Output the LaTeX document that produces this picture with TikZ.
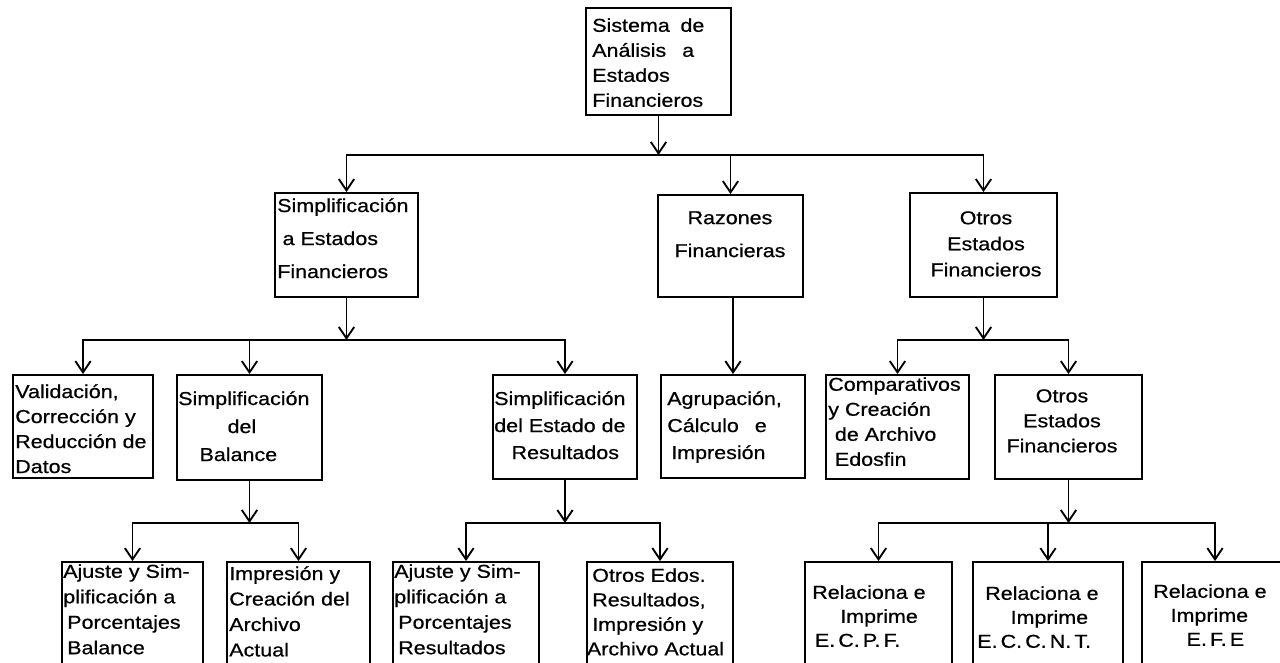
\documentclass[tikz,border=0pt]{standalone}
\usepackage{fontspec}
\newfontfamily\tf[FakeStretch=1.15,FakeBold=0.6]{Liberation Sans}
\usetikzlibrary{arrows.meta,fit}
\newcommand\tfs[1]{\tf\fontsize{14}{#1}\selectfont}
\begin{document}
\begin{tikzpicture}[x=0.75pt,y=-0.75pt,
  box/.style={draw,line width=1.4pt,inner sep=0pt},
  txt/.style={inner sep=0pt,anchor=north west,align=left},
  ctxt/.style={inner sep=0pt,anchor=north,align=center},
  ln/.style={line width=1.4pt,line cap=rect},
  arr/.style={line width=1.4pt,-{Straight Barb[length=8.5pt,width=11.5pt]}}]
\useasboundingbox (0,0) rectangle (1280,663);
\fill[white] (0,0) rectangle (1280,663);
\clip (0,0) rectangle (1280,663);

% ---------- level 0
\node[box,fit={(586,8)(731,115)}] (top) {};
\node[txt,font=\tfs{18.75pt}] (topT) at (592,18) {Sistema\hspace{8pt}de\\Análisis\hspace{12pt}a\\Estados\\Financieros};

% ---------- level 1
\node[box,fit={(275,193)(418,297)}] (s1) {};
\node[txt,font=\tfs{24.75pt}] (s1T) at (277,198) {Simplificación\\\hspace*{4pt}a Estados\\Financieros};

\node[box,fit={(658,195)(803,297)}] (ra) {};
\node[ctxt,font=\tfs{24.75pt}] (raT) at (730,211) {Razones\\Financieras};

\node[box,fit={(910,193)(1057,297)}] (o1) {};
\node[ctxt,font=\tfs{19.5pt}] (o1T) at (986,211) {Otros\\Estados\\Financieros};

% ---------- level 2
\node[box,fit={(13,375)(153,478)}] (val) {};
\node[txt,font=\tfs{18.75pt}] (valT) at (15,384) {Validación,\\Corrección y\\Reducción de\\Datos};

\node[box,fit={(177,375)(322,480)}] (bal) {};
\node[txt,font=\tfs{21pt}] (balT) at (178,391) {Simplificación\\\hspace*{37pt}del\\\hspace*{16pt}Balance};

\node[box,fit={(493,375)(637,479)}] (res) {};
\node[txt,font=\tfs{20.25pt}] (resT) at (494,391) {Simplificación\\del Estado de\\\hspace*{13pt}Resultados};

\node[box,fit={(661,375)(805,478)}] (ag) {};
\node[txt,font=\tfs{20.25pt}] (agT) at (667,391) {Agrupación,\\Cálculo\hspace{12pt}e\\\hspace*{3pt}Impresión};

\node[box,fit={(826,375)(969,479)}] (cp) {};
\node[txt,font=\tfs{18.75pt}] (cpT) at (828,377) {Comparativos\\y Creación\\\hspace*{5pt}de Archivo\\\hspace*{5pt}Edosfin};

\node[box,fit={(995,375)(1142,479)}] (o2) {};
\node[ctxt,font=\tfs{18.75pt}] (o2T) at (1062,389) {Otros\\Estados\\Financieros};

% ---------- level 3
\node[box,fit={(62,562)(203,700)}] (ajb) {};
\node[txt,font=\tfs{19.1pt}] (ajbT) at (63,564) {Ajuste y Sim-\\plificación a\\\hspace*{3pt}Porcentajes\\\hspace*{3pt}Balance};

\node[box,fit={(227,562)(370,700)}] (imp) {};
\node[txt,font=\tfs{19.1pt}] (impT) at (229,566) {Impresión y\\Creación del\\Archivo\\Actual};

\node[box,fit={(393,562)(539,700)}] (ajr) {};
\node[txt,font=\tfs{19.1pt}] (ajrT) at (394,564) {Ajuste y Sim-\\plificación a\\\hspace*{3pt}Porcentajes\\\hspace*{3pt}Resultados};

\node[box,fit={(587,562)(733,700)}] (oed) {};
\node[txt,font=\tfs{18.4pt}] (oedT) at (592,568) {Otros Edos.\\Resultados,\\Impresión y\\\hspace*{-4pt}Archivo Actual};

\node[box,fit={(805,562)(952,700)}] (ecpf) {};
\node[txt,font=\tfs{18pt}] (ecpfT) at (812,585) {Relaciona e\\\hspace*{21pt}Imprime\\\hspace*{2pt}E.\,C.\,P.\,F.};

\node[box,fit={(973,562)(1123,700)}] (eccnt) {};
\node[txt,font=\tfs{18pt}] (eccntT) at (985,586) {Relaciona e\\\hspace*{19pt}Imprime\\\hspace*{-6pt}E.\,C.\,C.\,N.\,T.};

\node[box,fit={(1142,562)(1288,700)}] (efe) {};
\node[txt,font=\tfs{18pt}] (efeT) at (1153,584) {Relaciona e\\\hspace*{13pt}Imprime\\\hspace*{25pt}E.\,F.\,E};

% ---------- connectors
\coordinate (b0) at (659,155);
\coordinate (b1) at (0,340);
\coordinate (b2) at (0,523);

\draw[arr] (top.south) -- (top.south |- b0);
\draw[ln] (s1.north |- b0) -- (o1.north |- b0);
\draw[arr] (s1.north |- b0) -- (s1.north);
\draw[arr] (ra.north |- b0) -- (ra.north);
\draw[arr] (o1.north |- b0) -- (o1.north);

\draw[arr] (s1.south) -- (s1.south |- b1);
\draw[ln] (val.north |- b1) -- (res.north |- b1);
\draw[arr] (val.north |- b1) -- (val.north);
\draw[arr] (bal.north |- b1) -- (bal.north);
\draw[arr] (res.north |- b1) -- (res.north);

\draw[arr] (ag.north |- ra.south) -- (ag.north);

\draw[arr] (o1.south) -- (o1.south |- b1);
\draw[ln] (cp.north |- b1) -- (o2.north |- b1);
\draw[arr] (cp.north |- b1) -- (cp.north);
\draw[arr] (o2.north |- b1) -- (o2.north);

\draw[arr] (bal.south) -- (bal.south |- b2);
\draw[ln] (ajb.north |- b2) -- (imp.north |- b2);
\draw[arr] (ajb.north |- b2) -- (ajb.north);
\draw[arr] (imp.north |- b2) -- (imp.north);

\draw[arr] (res.south) -- (res.south |- b2);
\draw[ln] (ajr.north |- b2) -- (oed.north |- b2);
\draw[arr] (ajr.north |- b2) -- (ajr.north);
\draw[arr] (oed.north |- b2) -- (oed.north);

\draw[arr] (o2.south) -- (o2.south |- b2);
\draw[ln] (ecpf.north |- b2) -- (efe.north |- b2);
\draw[arr] (ecpf.north |- b2) -- (ecpf.north);
\draw[arr] (eccnt.north |- b2) -- (eccnt.north);
\draw[arr] (efe.north |- b2) -- (efe.north);
\end{tikzpicture}
\end{document}
